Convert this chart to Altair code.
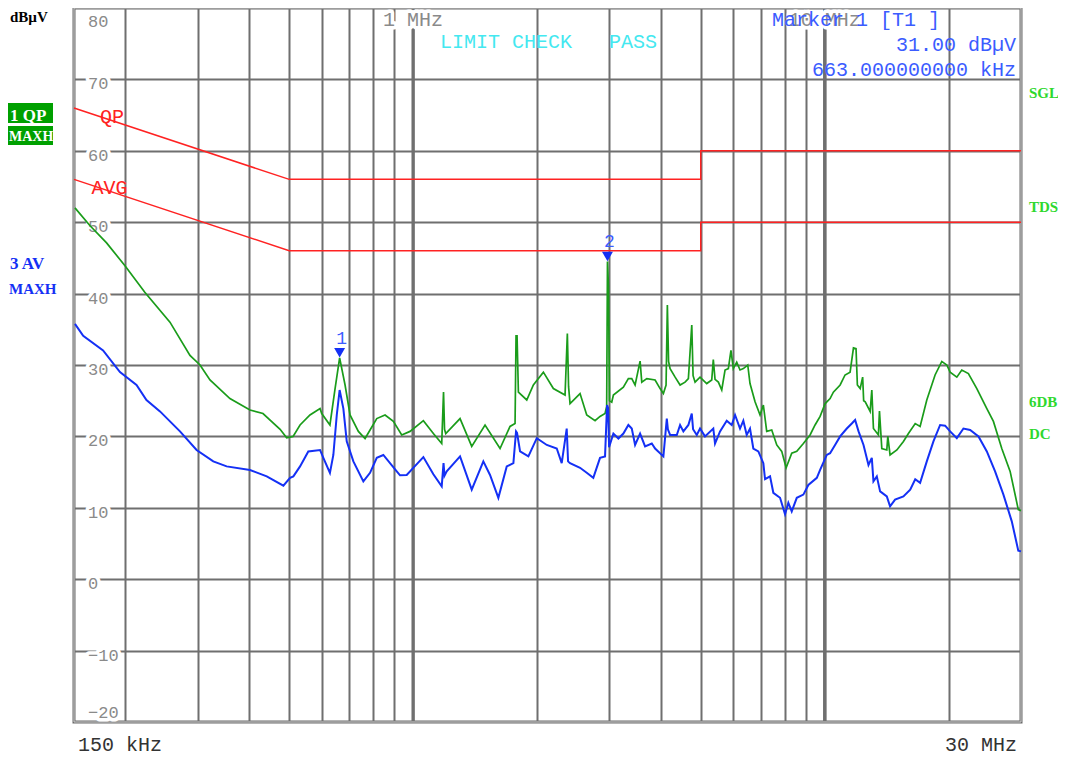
import altair as alt
import pandas as pd

# ---------------- data ----------------
GRID_F = [0.2, 0.3, 0.4, 0.5, 0.6, 0.7, 0.8, 0.9, 1, 2, 3, 4, 5, 6, 7, 8, 9, 10, 20]
MAJOR_F = [1, 10]
Y_GRID = [-10, 0, 10, 20, 30, 40, 50, 60, 70]
Y_TOP = [80]
Y_MID = [70, 60, 50, 40, 30, 20, 10, 0, -10]
Y_BOT = [-20]
TOP_F = [1, 10]
TOP_LABELS = ["1 MHz", "10 MHz"]

QP_F = [0.15, 0.5, 5, 5, 30]
QP_DB = [66, 56, 56, 60, 60]
AVG_F = [0.15, 0.5, 5, 5, 30]
AVG_DB = [56, 46, 46, 50, 50]

GREEN_F = [0.1508, 0.1641, 0.1800, 0.1995, 0.2229, 0.2566, 0.2870, 0.3036, 0.3210, 0.3589,
           0.4015, 0.4318, 0.4752, 0.4930, 0.5110, 0.5313, 0.5617, 0.5942, 0.5998, 0.628,
           0.6463, 0.663, 0.6835, 0.7028, 0.7363, 0.7644, 0.7860, 0.8161, 0.8549, 0.8955,
           0.9384, 0.9831, 1.0592, 1.1202, 1.1738, 1.1857, 1.1924, 1.2006, 1.3005, 1.3884,
           1.4957, 1.6267, 1.7202, 1.7692, 1.7790, 1.789, 1.8025, 1.8889, 1.9601, 2.0729,
           2.1921, 2.3402, 2.3705, 2.3865, 2.4065, 2.545, 2.642, 2.768, 2.846, 2.927,
           2.954, 2.967, 2.984, 3.001, 3.039, 3.067, 3.243, 3.335, 3.399, 3.463,
           3.561, 3.595, 3.697, 3.873, 3.983, 4.057, 4.118, 4.148, 4.176, 4.212,
           4.332, 4.454, 4.580, 4.666, 4.755, 4.79, 4.844, 4.980, 5.170, 5.317,
           5.364, 5.416, 5.518, 5.623, 5.728, 5.835, 5.921, 6.000, 6.115, 6.229,
           6.345, 6.504, 6.587, 6.775, 6.967, 7.097, 7.232, 7.438, 7.650, 7.866,
           8.062, 8.319, 8.557, 8.878, 9.217, 9.479, 9.75, 10.03, 10.31, 10.50,
           10.905, 11.21, 11.53, 11.75, 11.92, 12.01, 12.20, 12.37, 12.44, 12.55,
           12.90, 13.02, 13.14, 13.51, 13.59, 13.77, 14.16, 14.24, 14.42, 14.98,
           15.54, 15.98, 16.60, 17.06, 17.71, 18.55, 19.26, 19.81, 20.18, 20.95,
           21.54, 22.35, 23.43, 24.78, 25.71, 26.94, 28.23, 29.55, 30.0]
GREEN_DB = [52.0, 49.5, 47.1, 43.9, 40.2, 36.0, 31.35, 30.0, 27.9, 25.3,
            23.7, 23.2, 21.0, 19.8, 20.0, 21.6, 23.0, 23.9, 23.2, 21.6,
            26.7, 31.0, 27.2, 23.0, 20.7, 19.7, 20.9, 22.5, 23.0, 22.1,
            20.2, 20.7, 22.2, 20.4, 19.0, 26.2, 21.0, 20.4, 22.5, 18.6,
            21.6, 18.3, 21.4, 21.8, 34.1, 34.1, 26.2, 25.1, 27.2, 29.0,
            26.7, 25.8, 34.4, 27.0, 24.6, 26.0, 23.0, 22.2, 22.8, 23.2,
            24.2, 44.5, 41.0, 25.0, 24.8, 25.8, 26.9, 28.1, 28.1, 27.2,
            30.55, 27.6, 28.1, 27.9, 26.7, 26.0, 27.2, 38.4, 30.5, 29.5,
            28.3, 27.2, 27.6, 28.1, 35.6, 28.5, 27.6, 28.3, 27.4, 27.9,
            30.75, 28.0, 27.6, 26.5, 29.3, 29.5, 32.05, 29.5, 30.4, 29.3,
            29.5, 30.0, 27.4, 24.85, 23.0, 24.4, 20.7, 20.9, 18.8, 17.9,
            15.6, 17.65, 17.9, 19.0, 20.2, 21.6, 22.8, 24.6, 25.3, 26.2,
            27.2, 28.6, 29.0, 32.4, 32.3, 27.2, 26.7, 28.3, 25.0, 24.85,
            23.5, 26.5, 21.1, 20.2, 23.55, 18.3, 18.1, 20.0, 17.4, 18.1,
            19.3, 20.4, 21.8, 21.4, 25.1, 28.6, 30.5, 30.0, 29.0, 28.3,
            29.3, 28.8, 26.7, 23.9, 22.1, 18.3, 15.1, 9.75, 9.6]

BLUE_F = [0.1508, 0.1579, 0.1765, 0.1940, 0.2128, 0.2250, 0.2427, 0.2714, 0.2978, 0.3270,
          0.3524, 0.4015, 0.4410, 0.4840, 0.5024, 0.5118, 0.5313, 0.5564, 0.5942, 0.6053,
          0.628, 0.6401, 0.6525, 0.663, 0.6770, 0.6899, 0.7160, 0.7571, 0.7860, 0.8161,
          0.8467, 0.9126, 0.9296, 0.9650, 1.0011, 1.0592, 1.1202, 1.1738, 1.1857, 1.1924,
          1.2071, 1.3005, 1.3884, 1.4815, 1.5380, 1.6114, 1.6887, 1.7528, 1.7790, 1.789,
          1.8196, 1.906, 1.998, 2.113, 2.234, 2.297, 2.362, 2.38, 2.4065, 2.545,
          2.642, 2.741, 2.846, 2.927, 2.960, 2.977, 2.994, 3.067, 3.154, 3.243,
          3.335, 3.399, 3.463, 3.561, 3.662, 3.802, 3.873, 4.057, 4.135, 4.16,
          4.212, 4.373, 4.454, 4.537, 4.666, 4.755, 4.79, 4.890, 4.980, 5.121,
          5.364, 5.416, 5.570, 5.782, 5.947, 6.058, 6.229, 6.345, 6.466, 6.587,
          6.710, 6.901, 7.097, 7.165, 7.368, 7.505, 7.792, 8.013, 8.162, 8.319,
          8.557, 8.878, 9.130, 9.572, 9.75, 10.12, 10.31, 10.60, 10.905, 11.32,
          11.64, 11.86, 12.09, 12.43, 12.78, 13.02, 13.14, 13.39, 13.64, 14.16,
          14.42, 14.83, 15.54, 16.14, 16.60, 17.06, 17.71, 18.38, 19.08, 19.62,
          20.18, 20.95, 21.74, 22.57, 23.65, 24.78, 25.95, 27.19, 28.49, 29.55,
          30.0]
BLUE_DB = [35.75, 34.1, 32.05, 29.0, 27.2, 25.1, 23.5, 20.7, 18.1, 16.5,
           15.8, 15.3, 14.4, 13.1, 14.2, 14.4, 15.8, 17.9, 18.1, 17.0,
           14.9, 17.4, 23.0, 26.5, 23.9, 19.3, 16.5, 13.7, 14.9, 17.0,
           17.4, 15.1, 14.55, 14.6, 15.6, 17.1, 14.7, 13.0, 16.25, 14.5,
           15.1, 17.2, 12.55, 16.5, 14.6, 11.4, 15.8, 16.25, 20.7, 20.5,
           17.9, 17.2, 19.75, 18.8, 18.3, 16.25, 21.1, 16.5, 16.25, 15.6,
           14.9, 14.2, 17.0, 17.2, 24.4, 24.0, 18.5, 20.4, 19.7, 20.4,
           21.6, 21.1, 18.8, 20.4, 18.6, 19.0, 18.3, 17.2, 22.5, 21.0,
           20.2, 20.2, 21.6, 20.7, 21.6, 23.2, 21.0, 20.2, 21.1, 20.0,
           21.1, 19.0, 20.7, 22.2, 21.6, 23.0, 21.1, 22.2, 20.2, 21.1,
           18.3, 17.9, 16.25, 14.0, 14.4, 12.1, 11.4, 9.1, 10.7, 9.5,
           11.4, 11.85, 13.2, 14.2, 15.3, 17.4, 17.65, 18.8, 20.0, 21.1,
           21.8, 22.3, 20.7, 18.8, 16.0, 17.0, 13.7, 14.4, 12.3, 11.6,
           10.2, 11.15, 11.6, 12.55, 14.0, 13.5, 16.5, 19.3, 21.6, 21.5,
           20.7, 19.75, 21.1, 20.9, 20.0, 17.9, 15.1, 11.85, 8.1, 4.0,
           3.9]

MARK_F = [0.663, 2.967]
MARK_DB = [31.0, 44.5]
MARK_LBL = ["1", "2"]

# ---------------- styling ----------------
W, H = 947, 714
GRID_C = "#6f6f6f"
MONO = "Liberation Mono"
BOLD = "Liberation Serif"
GREEN = "#1a9c1a"
BLUE = "#1430f5"
RED = "#ff2222"
MBLUE = "#3b5cff"

XS = alt.Scale(type="log", domain=[0.15, 30], nice=False)
YS = alt.Scale(domain=[-20, 80], nice=False, zero=False)
XAX = alt.Axis(values=GRID_F, grid=True, gridColor=GRID_C, gridWidth=2, labels=False,
               ticks=False, domain=False, title=None)
YAX = alt.Axis(values=Y_GRID, grid=True, gridColor=GRID_C, gridWidth=2, labels=False,
               ticks=False, domain=False, title=None)


def X(field):
    return alt.X(f"{field}:Q", scale=XS, axis=XAX)


def Y(field):
    return alt.Y(f"{field}:Q", scale=YS, axis=YAX)


ONE = pd.DataFrame({"k": [0]})


def txt(s, x, y, **kw):
    return alt.Chart(ONE).mark_text(**kw).encode(
        x=alt.value(x), y=alt.value(y), text=alt.value(s))


def lab(v):
    return str(v).replace("-", "\u2212")


green_df = pd.DataFrame({"f": GREEN_F, "db": GREEN_DB, "i": range(len(GREEN_F))})
blue_df = pd.DataFrame({"f": BLUE_F, "db": BLUE_DB, "i": range(len(BLUE_F))})
lim_df = pd.DataFrame({
    "f": QP_F + AVG_F,
    "db": QP_DB + AVG_DB,
    "lim": ["QP"] * len(QP_F) + ["AVG"] * len(AVG_F),
    "i": list(range(len(QP_F))) + list(range(len(AVG_F))),
})
mark_df = pd.DataFrame({"f": MARK_F, "db": MARK_DB, "lbl": MARK_LBL})

layers = []

# thick decade grid lines
layers.append(alt.Chart(pd.DataFrame({"f": MAJOR_F})).mark_rule(
    color=GRID_C, strokeWidth=3.2).encode(x=X("f")))

# inner light line of the double border
layers.append(alt.Chart(ONE).mark_rect(fillOpacity=0, stroke="#d0d0d0", strokeWidth=1).encode(
    x=alt.value(0), x2=alt.value(W), y=alt.value(0), y2=alt.value(H)))


def ylabels(vals, dy, knock):
    df = pd.DataFrame({"v": vals, "lab": [lab(v) for v in vals]})
    kw = dict(align="left", baseline="middle", dy=dy, font=MONO, fontSize=17)
    if knock:
        kw.update(color="white", stroke="white", strokeWidth=7, strokeJoin="round")
    else:
        kw.update(color="#8a8a8a")
    return alt.Chart(df).mark_text(**kw).encode(x=alt.value(14), y=Y("v"), text="lab:N")


top_df = pd.DataFrame({"f": TOP_F, "lab": TOP_LABELS})
for knock in (True, False):
    layers.append(ylabels(Y_TOP, 14, knock))
    layers.append(ylabels(Y_MID, 5, knock))
    layers.append(ylabels(Y_BOT, -9, knock))
    kw = dict(align="center", baseline="middle", font=MONO, fontSize=20)
    if knock:
        kw.update(color="white", stroke="white", strokeWidth=7, strokeJoin="round")
    else:
        kw.update(color="#8a8a8a")
    layers.append(alt.Chart(top_df).mark_text(**kw).encode(
        x=X("f"), y=alt.value(12), text="lab:N"))

# limit lines
layers.append(alt.Chart(lim_df).mark_line(color=RED, strokeWidth=1.5).encode(
    x=X("f"), y=Y("db"), detail="lim:N", order="i:Q"))
layers.append(alt.Chart(pd.DataFrame({"f": [0.1735], "db": [64.8], "t": ["QP"]})).mark_text(
    align="left", baseline="middle", font=MONO, fontSize=20, color=RED).encode(
    x=X("f"), y=Y("db"), text="t:N"))
layers.append(alt.Chart(pd.DataFrame({"f": [0.1655], "db": [54.8], "t": ["AVG"]})).mark_text(
    align="left", baseline="middle", font=MONO, fontSize=20, color=RED).encode(
    x=X("f"), y=Y("db"), text="t:N"))

# traces
layers.append(alt.Chart(green_df).mark_line(color=GREEN, strokeWidth=1.7).encode(
    x=X("f"), y=Y("db"), order="i:Q"))
layers.append(alt.Chart(blue_df).mark_line(color=BLUE, strokeWidth=2).encode(
    x=X("f"), y=Y("db"), order="i:Q"))

# markers
layers.append(alt.Chart(mark_df).mark_point(shape="triangle-down", filled=True, size=120,
                                            color=BLUE, opacity=1, yOffset=-5).encode(
    x=X("f"), y=Y("db")))
layers.append(alt.Chart(mark_df).mark_text(font=MONO, fontSize=18, color=MBLUE,
                                           baseline="middle", dy=-19, dx=2).encode(
    x=X("f"), y=Y("db"), text="lbl:N"))

# annotation texts inside plot
layers.append(txt("LIMIT CHECK", 366, 34, align="left", baseline="middle", font=MONO,
                  fontSize=20, color="#44e8f0"))
layers.append(txt("PASS", 535, 34, align="left", baseline="middle", font=MONO,
                  fontSize=20, color="#44e8f0"))
layers.append(txt("Marker 1 [T1 ]", 866, 12, align="right", baseline="middle", font=MONO,
                  fontSize=20, color=MBLUE))
layers.append(txt("31.00 dB\u00b5V", 942, 37, align="right", baseline="middle", font=MONO,
                  fontSize=20, color=MBLUE))
layers.append(txt("663.000000000 kHz", 942, 62, align="right", baseline="middle", font=MONO,
                  fontSize=20, color=MBLUE))

# outside texts
layers.append(txt("150 kHz", 4, 737, align="left", baseline="middle", font=MONO,
                  fontSize=20, color="#333333"))
layers.append(txt("30 MHz", 943, 737, align="right", baseline="middle", font=MONO,
                  fontSize=20, color="#333333"))
layers.append(txt("dB\u00b5V", -64, 14, align="left", baseline="alphabetic", font=BOLD,
                  fontSize=15, fontWeight="bold", color="black"))

# green trace-info boxes
layers.append(alt.Chart(ONE).mark_rect(color="#00a000").encode(
    x=alt.value(-66), x2=alt.value(-21), y=alt.value(95), y2=alt.value(115)))
layers.append(alt.Chart(ONE).mark_rect(color="#00a000").encode(
    x=alt.value(-66), x2=alt.value(-21), y=alt.value(118), y2=alt.value(137)))
layers.append(txt("1 QP", -64, 108, align="left", baseline="middle", font=BOLD,
                  fontSize=17, fontWeight="bold", color="white"))
layers.append(txt("MAXH", -65, 129, align="left", baseline="middle", font=BOLD,
                  fontSize=14, fontWeight="bold", color="white"))
layers.append(txt("3 AV", -64, 256, align="left", baseline="middle", font=BOLD,
                  fontSize=17, fontWeight="bold", color=BLUE))
layers.append(txt("MAXH", -65, 281, align="left", baseline="middle", font=BOLD,
                  fontSize=15, fontWeight="bold", color=BLUE))

RG = "#2ed82e"
for s, yy in [("SGL", 85), ("TDS", 199), ("6DB", 394), ("DC", 426)]:
    layers.append(txt(s, 955, yy, align="left", baseline="middle", font=BOLD,
                      fontSize=15, fontWeight="bold", color=RG))

chart = alt.layer(*layers).properties(
    width=W, height=H,
    autosize=alt.AutoSizeParams(type="none"),
    padding={"left": 66, "top": 0, "right": 37, "bottom": 35},
    background="white",
).configure_view(stroke="#6a6a6a", strokeWidth=3)

chart.save("out.html", embed_options={"renderer": "svg", "actions": False})
